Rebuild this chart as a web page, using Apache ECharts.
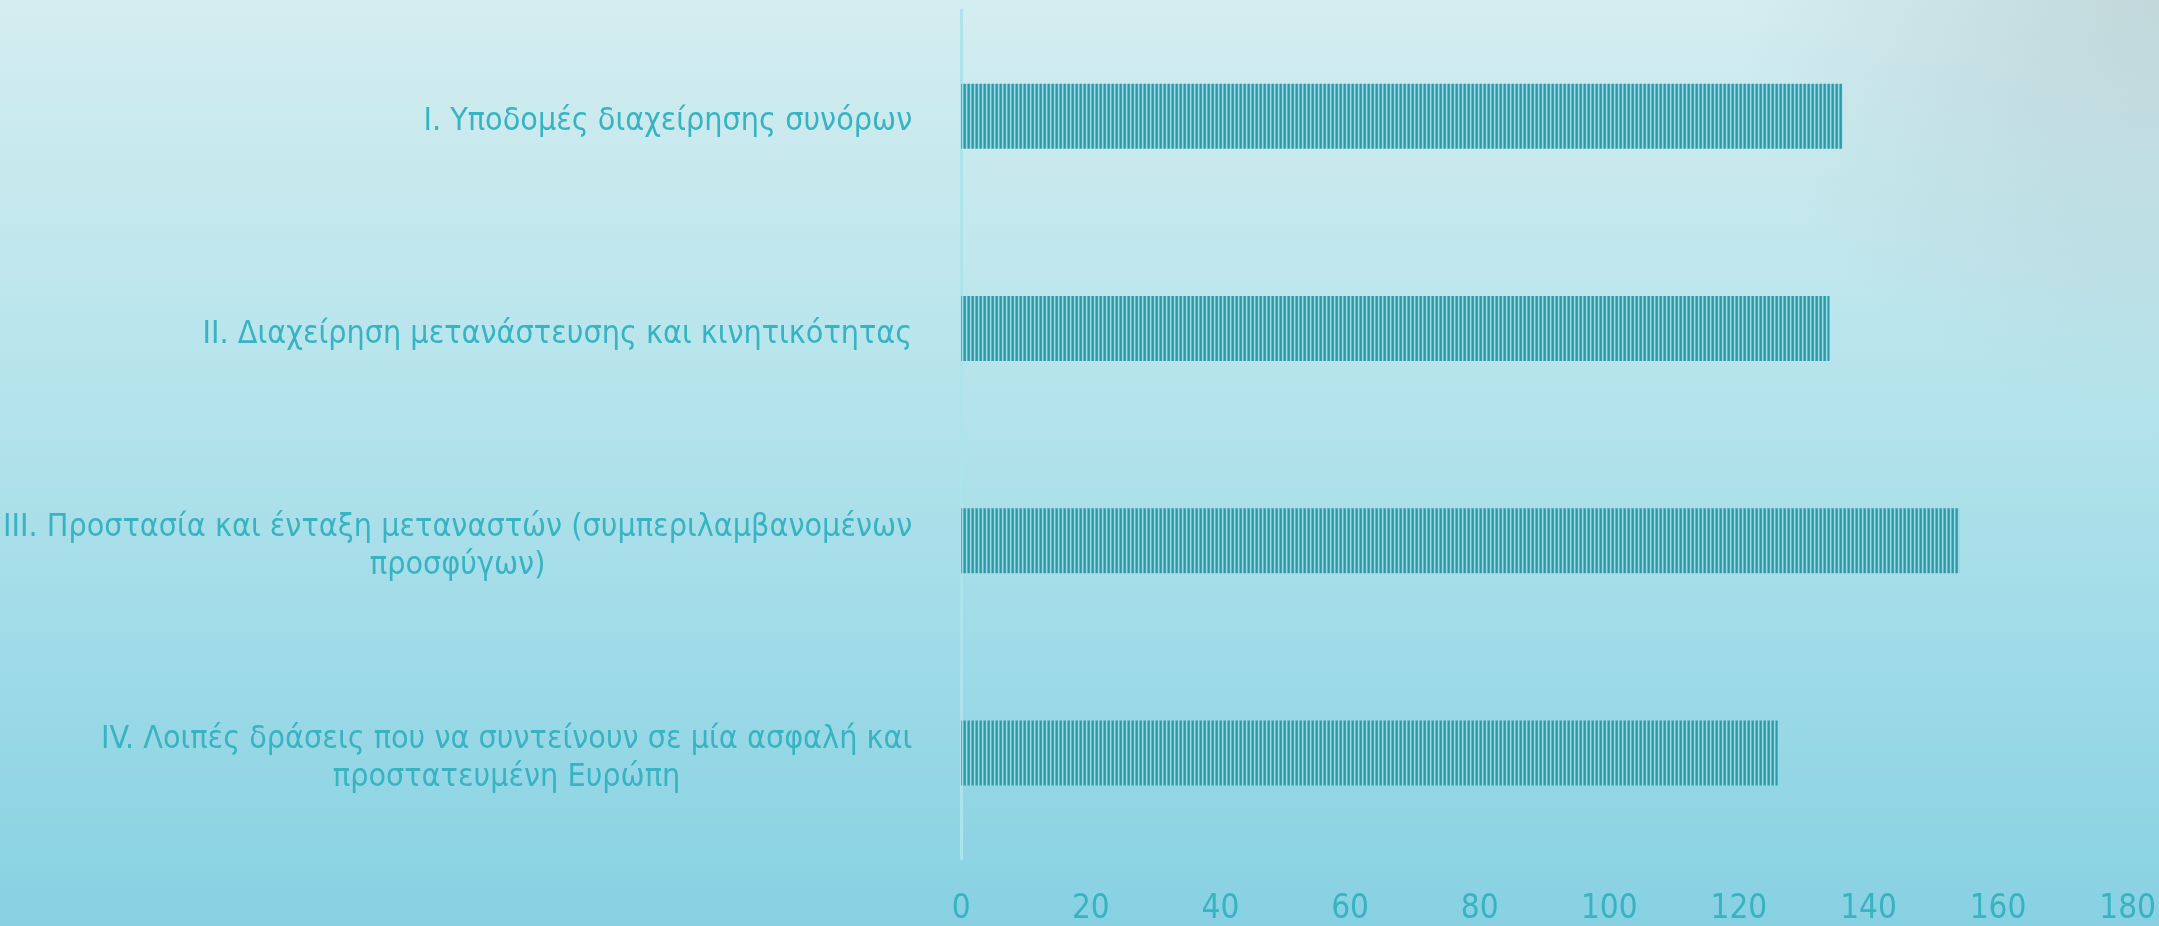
<!DOCTYPE html>
<html><head><meta charset="utf-8">
<script src="https://cdn.jsdelivr.net/npm/echarts@6/dist/echarts.min.js"></script>
<style>html,body{margin:0;padding:0;overflow:hidden;}#c{width:2159px;height:926px;}</style>
</head><body><div id="c"></div>
<script>
const categories = [
  'I. Υποδομές διαχείρησης συνόρων',
  'II. Διαχείρηση μετανάστευσης και κινητικότητας',
  'III. Προστασία και ένταξη μεταναστών (συμπεριλαμβανομένων\nπροσφύγων)',
  'IV. Λοιπές δράσεις που να συντείνουν σε μία ασφαλή και\nπροστατευμένη Ευρώπη'
];
const values = [136, 134, 154, 126];
const xMin = 0, xMax = 180, xStep = 20;

const FONT = "'Liberation Sans Narrow', 'DejaVu Sans Condensed', sans-serif";
const TEXT_COLOR = '#38b3c2';

// stripe pattern for bars
const pc = document.createElement('canvas');
pc.width = 4; pc.height = 4;
const pctx = pc.getContext('2d');
const stripes = ['#2a9bab', '#36a6b5', '#a0dbe3', '#57bbc7'];
stripes.forEach((c, i) => { pctx.fillStyle = c; pctx.fillRect(i, 0, 1, 4); });

const chart = echarts.init(document.getElementById('c'), null, {renderer: 'canvas'});
chart.setOption({
  backgroundColor: {
    type: 'linear', x: 0, y: 0, x2: 0, y2: 1,
    colorStops: [
      {offset: 0, color: '#d4edf0'},
      {offset: 0.45, color: '#b3e3eb'},
      {offset: 1, color: '#87d1e3'}
    ]
  },
  graphic: [{
    type: 'rect', left: 'right', top: 0, silent: true, z: -10,
    shape: {width: 600, height: 420},
    style: {fill: {
      type: 'radial', x: 1, y: 0, r: 1,
      colorStops: [{offset: 0, color: 'rgba(178,198,202,0.55)'}, {offset: 1, color: 'rgba(178,198,202,0)'}]
    }}
  }],
  animation: false,
  grid: {left: 958, right: 29, top: 10, bottom: 62, containLabel: false},
  xAxis: {
    type: 'value', min: xMin, max: xMax, interval: xStep,
    axisLine: {show: false}, axisTick: {show: false}, splitLine: {show: false},
    axisLabel: {color: TEXT_COLOR, fontSize: 33, fontFamily: FONT, margin: 34}
  },
  yAxis: {
    type: 'category', data: categories, inverse: true,
    axisLine: {show: true, lineStyle: {color: '#ade3eb', width: 3}},
    axisTick: {show: false},
    axisLabel: {
      margin: 49, align: 'right', padding: [12, 0, 0, 0],
      formatter: v => v.split('\n').map(s => '{c|' + s + '}').join('\n'),
      rich: {c: {align: 'center', color: TEXT_COLOR, fontSize: 32, fontFamily: FONT, lineHeight: 38}}
    }
  },
  series: [{
    type: 'bar', data: values, barWidth: 65,
    itemStyle: {color: {image: pc, repeat: 'repeat'}}
  }]
});
</script></body></html>
